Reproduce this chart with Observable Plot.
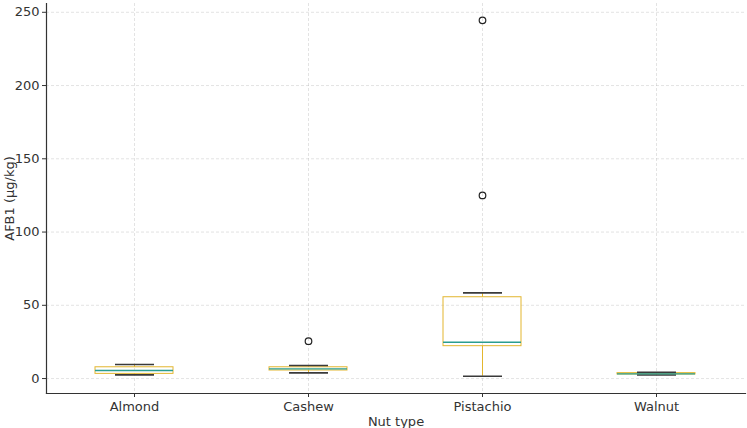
<!DOCTYPE html>
<html>
<head>
<meta charset="utf-8">
<script src="https://cdn.jsdelivr.net/npm/d3@7"></script>
<script src="https://cdn.jsdelivr.net/npm/@observablehq/plot@0.6"></script>
<style>
  html, body { margin: 0; padding: 0; background: #fff; }
  #chart svg { display: block; }
</style>
</head>
<body>
<div id="chart"></div>
<script>
// AFB1 concentration summary per nut type (µg/kg)
const nuts     = ["Almond", "Cashew", "Pistachio", "Walnut"];
const whiskLo  = [2.5, 3.9, 1.6, 2.4];
const q1       = [3.2, 5.5, 22.1, 2.8];
const median   = [5.5, 6.6, 24.8, 3.2];
const q3       = [7.7, 7.7, 55.5, 3.7];
const whiskHi  = [9.6, 8.9, 58.5, 4.2];
const outlierNut   = ["Cashew", "Pistachio", "Pistachio"];
const outlierValue = [25.5, 125, 244.5];
const yTicks = [0, 50, 100, 150, 200, 250];

const boxes = nuts.map((nut, i) => ({
  nut, lo: whiskLo[i], q1: q1[i], med: median[i], q3: q3[i], hi: whiskHi[i]
}));
const outliers = outlierNut.map((nut, i) => ({nut, value: outlierValue[i]}));

const boxColor = "#e3b62e";
const medianColor = "#2a9d8f";
const capColor = "#3a3a3a";
const font = "DejaVu Sans, sans-serif";

const chart = Plot.plot({
  width: 747,
  height: 428,
  marginLeft: 46,
  marginRight: 2,
  marginTop: 3,
  marginBottom: 35,
  style: {fontFamily: font, fontSize: "13px", color: "#333", background: "#fff"},
  x: {domain: nuts, paddingInner: 0.55, paddingOuter: 0.275, label: null},
  y: {domain: [-10.2, 256], label: null},
  marks: [
    // dashed grid
    Plot.gridY(yTicks, {stroke: "#b0b0b0", strokeOpacity: 0.45, strokeDasharray: "3,2", strokeWidth: 0.8}),
    Plot.gridX(nuts, {stroke: "#b0b0b0", strokeOpacity: 0.45, strokeDasharray: "3,2", strokeWidth: 0.8}),
    // whiskers
    Plot.ruleX(boxes, {x: "nut", y1: "lo", y2: "q1", stroke: boxColor, strokeWidth: 1}),
    Plot.ruleX(boxes, {x: "nut", y1: "q3", y2: "hi", stroke: boxColor, strokeWidth: 1}),
    // boxes
    Plot.rectY(boxes, {x: "nut", y1: "q1", y2: "q3", fill: "none", stroke: boxColor, strokeWidth: 1}),
    // caps
    Plot.tickY(boxes, {x: "nut", y: "lo", stroke: capColor, strokeWidth: 1.6, insetLeft: 20, insetRight: 19}),
    Plot.tickY(boxes, {x: "nut", y: "hi", stroke: capColor, strokeWidth: 1.6, insetLeft: 20, insetRight: 19}),
    // medians
    Plot.tickY(boxes, {x: "nut", y: "med", stroke: medianColor, strokeWidth: 1.4}),
    // outliers
    Plot.dot(outliers, {x: "nut", y: "value", r: 3.3, stroke: "#222", strokeWidth: 1.2, fill: "none"}),
    // axes
    Plot.axisY(yTicks, {tickSize: 4, tickPadding: 3, fontSize: 13, label: "AFB1 (µg/kg)", labelAnchor: "center", labelArrow: "none", labelOffset: 42}),
    Plot.axisX(nuts, {tickSize: 4, tickPadding: 4, fontSize: 13, label: "Nut type", labelAnchor: "center", labelArrow: "none", labelOffset: 32}),
    Plot.frame({anchor: "left", stroke: "#333", strokeWidth: 1.2}),
    Plot.frame({anchor: "bottom", stroke: "#333", strokeWidth: 1.2})
  ]
});
document.getElementById("chart").appendChild(chart);
</script>
</body>
</html>
